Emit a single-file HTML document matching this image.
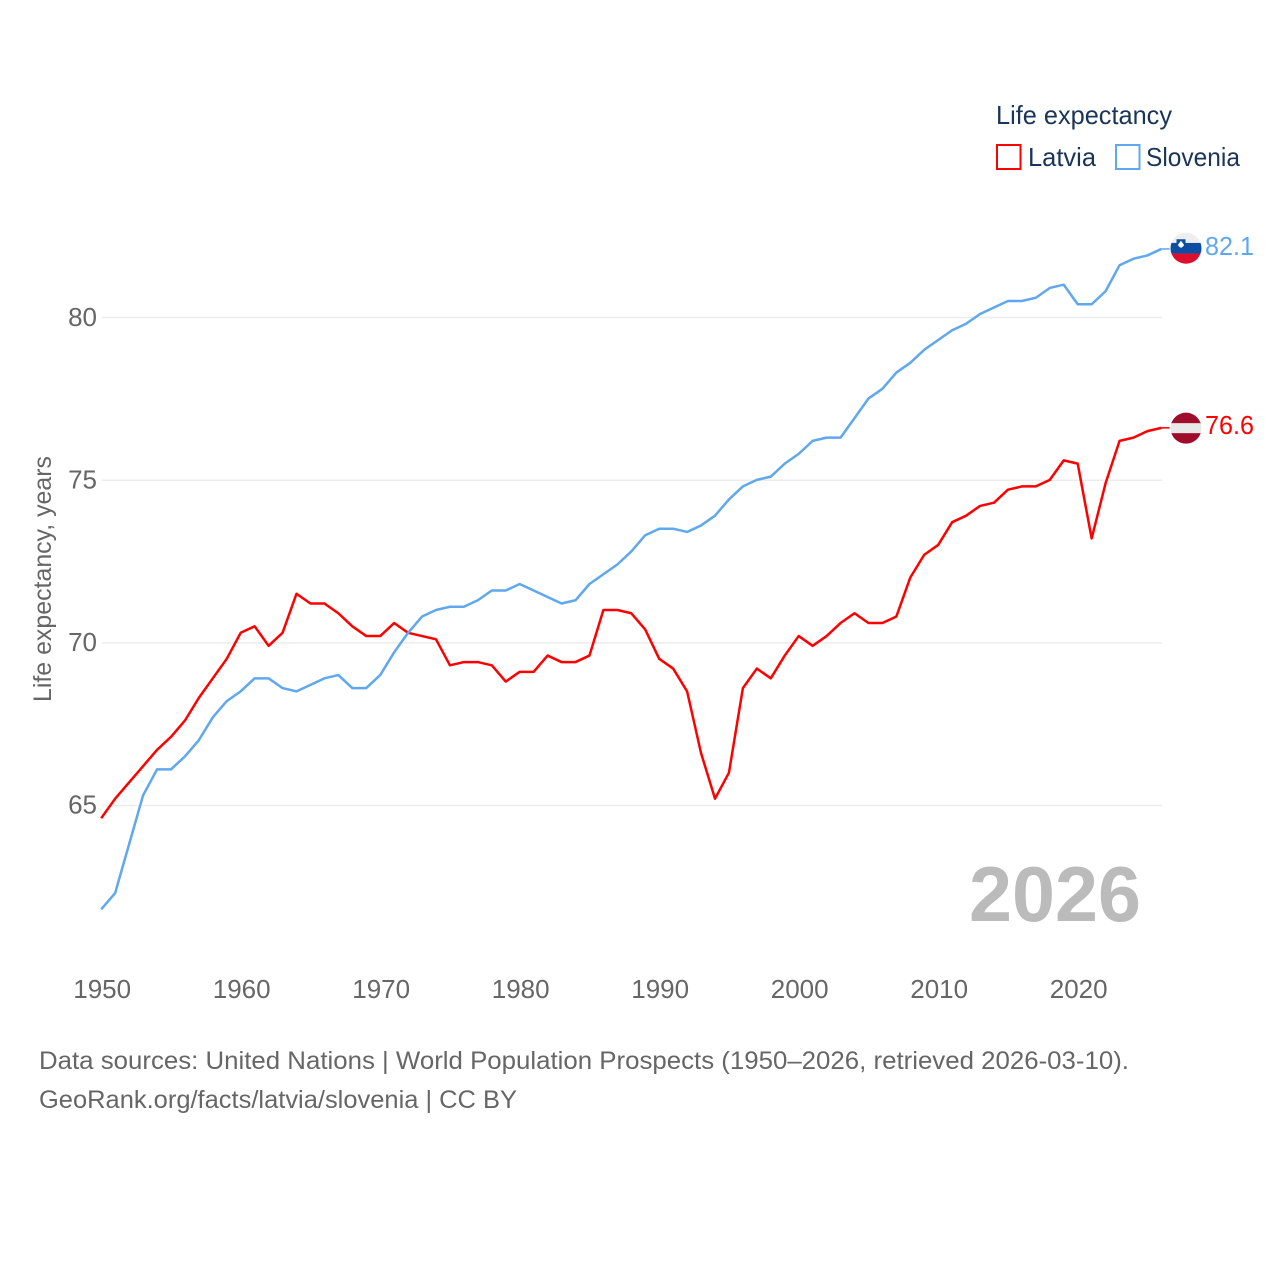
<!DOCTYPE html>
<html lang="en">
<head>
<meta charset="utf-8">
<title>Life expectancy: Latvia and Slovenia</title>
<style>
html,body{margin:0;padding:0;background:#fff;width:1280px;height:1280px;overflow:hidden}
svg{display:block}
text{font-family:"Liberation Sans",sans-serif}
</style>
</head>
<body>
<svg id="chart" xmlns="http://www.w3.org/2000/svg" width="1280" height="1280" viewBox="0 0 1280 1280">
  <rect width="1280" height="1280" fill="#fff"/>
  <g id="grid"></g>
  <g id="yticks"></g>
  <g id="xticks"></g>
  <text transform="translate(51,702) rotate(-90)" font-size="25" fill="#666" textLength="246" lengthAdjust="spacingAndGlyphs">Life expectancy, years</text>
  <text x="969" y="921" font-size="78" font-weight="700" fill="#bbb" textLength="172" lengthAdjust="spacingAndGlyphs">2026</text>
  <g id="series"></g>
  <g id="ends"></g>
  <g>
    <text x="996" y="124" font-size="26" fill="#1a3557" textLength="176" lengthAdjust="spacingAndGlyphs">Life expectancy</text>
    <rect x="997" y="145" width="23.5" height="24" fill="none" stroke="#ff0000" stroke-width="2"/>
    <text x="1028" y="166" font-size="26" fill="#1a3557" textLength="68" lengthAdjust="spacingAndGlyphs">Latvia</text>
    <rect x="1116" y="145" width="23.5" height="24" fill="none" stroke="#5fa8ee" stroke-width="2"/>
    <text x="1146" y="166" font-size="26" fill="#1a3557" textLength="94" lengthAdjust="spacingAndGlyphs">Slovenia</text>
  </g>
  <text x="39" y="1069" font-size="25" fill="#666" textLength="1090" lengthAdjust="spacingAndGlyphs">Data sources: United Nations | World Population Prospects (1950–2026, retrieved 2026-03-10).</text>
  <text x="39" y="1108" font-size="25" fill="#666" textLength="478" lengthAdjust="spacingAndGlyphs">GeoRank.org/facts/latvia/slovenia | CC BY</text>
</svg>
<script>
const startYear = 1950;
const xTickYears = [1950, 1960, 1970, 1980, 1990, 2000, 2010, 2020];
const yTickValues = [65, 70, 75, 80];
const latviaValues = [64.6,65.2,65.7,66.2,66.7,67.1,67.6,68.3,68.9,69.5,70.3,70.5,69.9,70.3,71.5,71.2,71.2,70.9,70.5,70.2,70.2,70.6,70.3,70.2,70.1,69.3,69.4,69.4,69.3,68.8,69.1,69.1,69.6,69.4,69.4,69.6,71.0,71.0,70.9,70.4,69.5,69.2,68.5,66.6,65.2,66.0,68.6,69.2,68.9,69.6,70.2,69.9,70.2,70.6,70.9,70.6,70.6,70.8,72.0,72.7,73.0,73.7,73.9,74.2,74.3,74.7,74.8,74.8,75.0,75.6,75.5,73.2,74.9,76.2,76.3,76.5,76.6];
const sloveniaValues = [61.8,62.3,63.8,65.3,66.1,66.1,66.5,67.0,67.7,68.2,68.5,68.9,68.9,68.6,68.5,68.7,68.9,69.0,68.6,68.6,69.0,69.7,70.3,70.8,71.0,71.1,71.1,71.3,71.6,71.6,71.8,71.6,71.4,71.2,71.3,71.8,72.1,72.4,72.8,73.3,73.5,73.5,73.4,73.6,73.9,74.4,74.8,75.0,75.1,75.5,75.8,76.2,76.3,76.3,76.9,77.5,77.8,78.3,78.6,79.0,79.3,79.6,79.8,80.1,80.3,80.5,80.5,80.6,80.9,81.0,80.4,80.4,80.8,81.6,81.8,81.9,82.1];

const NS = 'http://www.w3.org/2000/svg';
const xAxis = yr => 101.2 + (yr - 1950) * 13.95;
const yAxis = v => 805.2 - (v - 65) * 32.53;
function mk(tag, parent, attrs, txt) {
  const el = document.createElementNS(NS, tag);
  for (const k in attrs) el.setAttribute(k, attrs[k]);
  if (txt !== undefined) el.textContent = txt;
  parent.appendChild(el);
  return el;
}
const grid = document.getElementById('grid');
const yt = document.getElementById('yticks');
const xt = document.getElementById('xticks');
yTickValues.forEach(v => {
  const line = mk('line', grid, {x1: 102, x2: 1162, y1: yAxis(v) + 0.3, y2: yAxis(v) + 0.3, stroke: '#ececec', 'stroke-width': 1.5});
  
  
  const t = mk('text', yt, {x: 97, y: yAxis(v) + 8.5, 'font-size': 26, fill: '#666', 'text-anchor': 'end'}, String(v));
  
  
});
xTickYears.forEach(yr => {
  const t = mk('text', xt, {x: xAxis(yr) + 1, y: 998, 'font-size': 26, fill: '#666', 'text-anchor': 'middle'}, String(yr));
  
  
});

const seriesG = document.getElementById('series');
const ends = document.getElementById('ends');
function drawLine(values, color, name) {
  const d = values.map((v, i) => (i ? 'L' : 'M') + xAxis(startYear + i).toFixed(2) + ' ' + yAxis(v).toFixed(2)).join(' ');
  const p = mk('path', seriesG, {d: d, fill: 'none', stroke: color, 'stroke-width': 2.5, 'stroke-linejoin': 'round'});
  
  
  const last = values[values.length - 1];
  const lx = xAxis(startYear + values.length - 1);
  const ly = yAxis(last);
  const lead = mk('line', seriesG, {x1: lx, x2: lx + 9, y1: ly, y2: ly, stroke: color, 'stroke-width': 1.5});
  
  
  return {last: last, ly: ly};
}
const lat = drawLine(latviaValues, '#ff0000', 'line-latvia');
const slo = drawLine(sloveniaValues, '#5fa8ee', 'line-slovenia');

function flag(cy, id, name, stripes, extra) {
  const g = mk('g', ends, {});
  
  
  mk('circle', g, {cx: 1186, cy: cy, r: 16.5, fill: '#fff'});
  const clip = mk('clipPath', g, {id: id});
  mk('circle', clip, {cx: 1186, cy: cy, r: 15.5});
  const inner = mk('g', g, {'clip-path': 'url(#' + id + ')'});
  stripes.forEach(s => mk('rect', inner, {x: 1170, y: cy + s[0], width: 32, height: s[1], fill: s[2]}));
  if (extra) extra(inner, cy);
}
flag(lat.ly + 0.3, 'clip-lv', 'flag-latvia', [[-16, 12, '#a00c2c'], [-5, 10, '#e8e8e8'], [5, 11, '#a00c2c']]);
flag(slo.ly - 0.7, 'clip-si', 'flag-slovenia', [[-16, 10.7, '#eeeeee'], [-5.3, 10.6, '#0b4ea2'], [5.3, 11, '#dd0f2f']], (inner, cy) => {
  mk('path', inner, {d: `M1176.5 ${cy-9} h9 v6 q-1 3 -4.5 4.5 q-3.5 -1.5 -4.5 -4.5 z`, fill: '#0b4ea2'});
  mk('path', inner, {d: `M1178 ${cy-3.5} l3 -4 l3 4 q-.5 2 -3 3 q-2.500 -1 -3 -3 z`, fill: '#fff'});
});

function endLabel(ly, value, color, name) {
  const t = mk('text', ends, {x: 1205, y: ly + 6, 'font-size': 26, fill: color, textLength: 49, lengthAdjust: 'spacingAndGlyphs'}, value.toFixed(1));
  
  
}
endLabel(lat.ly, lat.last, '#ff0000', 'value-label-latvia');
endLabel(slo.ly, slo.last, '#5fa8ee', 'value-label-slovenia');
</script>
</body>
</html>
